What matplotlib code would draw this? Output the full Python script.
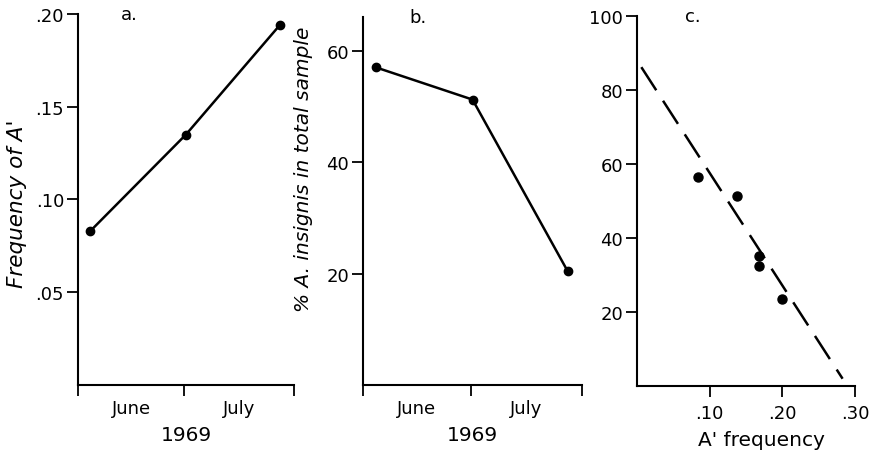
import matplotlib.pyplot as plt
import numpy as np

# days counted from 1 June 1969
days = [3.5, 30.5, 57]
freq_a = [0.083, 0.135, 0.194]
pct_insignis = [57.0, 51.2, 20.4]

# panel c scatter
c_freq = [0.084, 0.137, 0.168, 0.168, 0.199]
c_pct = [56.5, 51.3, 35.1, 32.4, 23.5]
fit_x = [0.006, 0.283]
fit_intercept, fit_slope = 88.0, -304.0

month_edges = [0, 30, 61]
month_mid = [15, 45.5]
month_names = ['June', 'July']

plt.rcParams['font.family'] = ['DejaVu Sans']
fig = plt.figure(figsize=(8.74, 4.52), dpi=100)

def style(ax):
    for s in ['top', 'right']:
        ax.spines[s].set_visible(False)
    for s in ['left', 'bottom']:
        ax.spines[s].set_linewidth(1.5)
    ax.tick_params(direction='out', length=8, width=1.3, labelsize=13, pad=2)

def months(ax):
    ax.set_xlim(0, 61)
    ax.set_xticks(month_edges)
    ax.set_xticklabels(['', '', ''])
    ax.set_xticks(month_mid, minor=True)
    ax.set_xticklabels(month_names, minor=True, fontsize=13)
    ax.tick_params(axis='x', which='minor', length=0, pad=10)
    ax.set_xlabel('1969', fontsize=14.5, labelpad=6)

# a.
ax1 = fig.add_axes([0.0892, 0.146, 0.2472, 0.821])
ax1.plot(days, freq_a, 'k-', lw=1.8, marker='o', ms=6)
ax1.set_ylim(0, 0.20)
ax1.set_yticks([0.05, 0.10, 0.15, 0.20])
ax1.set_yticklabels(['.05', '.10', '.15', '.20'])
months(ax1)
style(ax1)
ax1.set_ylabel("Frequency of A'", fontsize=15.5, style='italic')
ax1.yaxis.set_label_coords(-0.235, 0.49)
ax1.text(0.2, 1.0, 'a.', transform=ax1.transAxes, fontsize=13, va='center')

# b.
ax2 = fig.add_axes([0.4153, 0.146, 0.2507, 0.814])
ax2.plot(days, pct_insignis, 'k-', lw=1.8, marker='o', ms=6)
ax2.set_ylim(0, 66)
ax2.set_yticks([20, 40, 60])
months(ax2)
style(ax2)
ax2.set_ylabel('% A. insignis in total sample', fontsize=14.5, style='italic')
ax2.yaxis.set_label_coords(-0.23, 0.59)
ax2.text(0.21, 1.0, 'b.', transform=ax2.transAxes, fontsize=13, va='center')

# c.
ax3 = fig.add_axes([0.7288, 0.1438, 0.2494, 0.8186])
ax3.plot(c_freq, c_pct, 'ko', ms=6.5)
fx = np.array(fit_x)
ax3.plot(fx, fit_intercept + fit_slope * fx, color='k', lw=1.8,
         dashes=(11, 5))
ax3.set_xlim(0, 0.30)
ax3.set_ylim(0, 100)
ax3.set_xticks([0.10, 0.20, 0.30])
ax3.set_xticklabels(['.10', '.20', '.30'])
ax3.set_yticks([20, 40, 60, 80, 100])
style(ax3)
ax3.tick_params(axis='x', pad=5)
ax3.set_xlabel("A' frequency", fontsize=14.5)
ax3.xaxis.set_label_coords(0.57, -0.12)
ax3.text(0.22, 1.0, 'c.', transform=ax3.transAxes, fontsize=13, va='center')

fig.savefig('out.png', dpi=100)
